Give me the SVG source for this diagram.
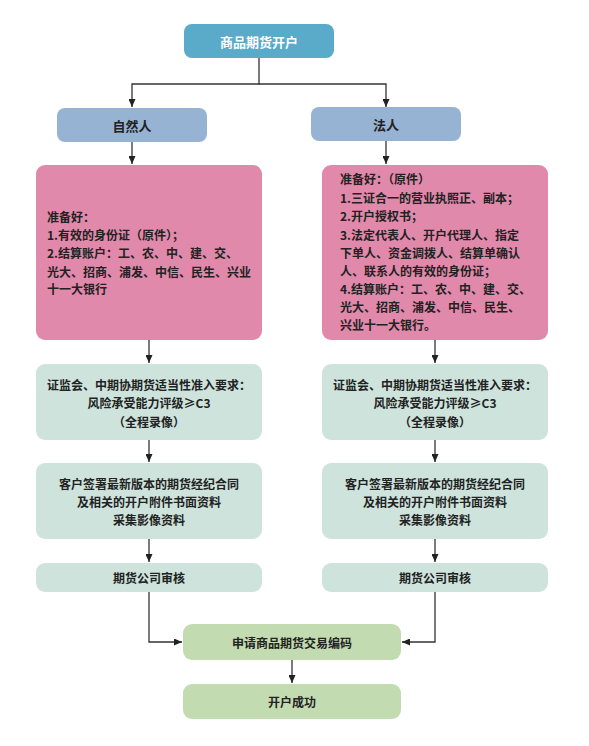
<svg xmlns="http://www.w3.org/2000/svg" width="589" height="746" viewBox="0 0 589 746">
<style>
text{font-family:"Noto Sans CJK SC","Noto Sans",sans-serif;font-weight:bold;font-size:12px;fill:#222;}
.c{text-anchor:middle;dominant-baseline:central;}
.l{dominant-baseline:central;}
.w{fill:#ffffff;font-size:13px;}
.top{fill:#5aabc9;}
.blue{fill:#97b3d3;}
.pink{fill:#e189aa;}
.teal{fill:#cde3dc;}
.green{fill:#c3dbb1;}
.conn{fill:none;stroke:#333;stroke-width:1.3;}
</style>
<defs>
<marker id="ah" markerUnits="userSpaceOnUse" markerWidth="8" markerHeight="7" refX="8" refY="3.5" orient="auto">
<path d="M0,0 L8,3.5 L0,7 z" fill="#222"/>
</marker>
</defs>
<rect width="589" height="746" fill="#ffffff"/>
<g id="connectors">
<path class="conn" d="M259,58 V84 H132 V107" marker-end="url(#ah)"/>
<path class="conn" d="M259,84 H386 V107" marker-end="url(#ah)"/>
<path class="conn" d="M132,142 V164" marker-end="url(#ah)"/>
<path class="conn" d="M386,141 V164" marker-end="url(#ah)"/>
<path class="conn" d="M149,340 V363" marker-end="url(#ah)"/>
<path class="conn" d="M435,340 V363" marker-end="url(#ah)"/>
<path class="conn" d="M149,440 V462" marker-end="url(#ah)"/>
<path class="conn" d="M435,440 V462" marker-end="url(#ah)"/>
<path class="conn" d="M149,539 V562" marker-end="url(#ah)"/>
<path class="conn" d="M435,539 V562" marker-end="url(#ah)"/>
<path class="conn" d="M149,592 V642 H182" marker-end="url(#ah)"/>
<path class="conn" d="M435,592 V642 H402" marker-end="url(#ah)"/>
<path class="conn" d="M292,660 V683" marker-end="url(#ah)"/>
</g>
<g id="n-top">
<rect class="top" x="184" y="24" width="150" height="34" rx="8"/>
<text class="c w" x="259" y="41">商品期货开户</text>
</g>
<g id="n-natural">
<rect class="blue" x="57" y="108" width="150" height="34" rx="8"/>
<text class="c" x="132" y="125" style="font-size:13px">自然人</text>
</g>
<g id="n-legal">
<rect class="blue" x="311" y="107" width="150" height="34" rx="8"/>
<text class="c" x="386" y="124" style="font-size:13px">法人</text>
</g>
<g id="n-prep-left">
<rect class="pink" x="36" y="165" width="226" height="175" rx="9"/>
<text class="l" x="47" y="216">准备好：</text>
<text class="l" x="47" y="234">1.有效的身份证（原件）；</text>
<text class="l" x="47" y="252">2.结算账户：工、农、中、建、交、</text>
<text class="l" x="47" y="271">光大、招商、浦发、中信、民生、兴业</text>
<text class="l" x="47" y="288">十一大银行</text>
</g>
<g id="n-prep-right">
<rect class="pink" x="322" y="165" width="226" height="175" rx="9"/>
<text class="l" x="340" y="178">准备好：（原件）</text>
<text class="l" x="340" y="197">1.三证合一的营业执照正、副本；</text>
<text class="l" x="340" y="215">2.开户授权书；</text>
<text class="l" x="340" y="234">3.法定代表人、开户代理人、指定</text>
<text class="l" x="340" y="252">下单人、资金调拨人、结算单确认</text>
<text class="l" x="340" y="270">人、联系人的有效的身份证；</text>
<text class="l" x="340" y="288">4.结算账户：工、农、中、建、交、</text>
<text class="l" x="340" y="306">光大、招商、浦发、中信、民生、</text>
<text class="l" x="340" y="324">兴业十一大银行。</text>
</g>
<g id="n-req-left">
<rect class="teal" x="36" y="364" width="226" height="76" rx="9"/>
<text class="c" x="149" y="384">证监会、中期协期货适当性准入要求：</text>
<text class="c" x="149" y="402">风险承受能力评级≥C3</text>
<text class="c" x="149" y="421">（全程录像）</text>
</g>
<g id="n-req-right">
<rect class="teal" x="322" y="364" width="226" height="76" rx="9"/>
<text class="c" x="435" y="384">证监会、中期协期货适当性准入要求：</text>
<text class="c" x="435" y="402">风险承受能力评级≥C3</text>
<text class="c" x="435" y="421">（全程录像）</text>
</g>
<g id="n-sign-left">
<rect class="teal" x="36" y="463" width="226" height="76" rx="9"/>
<text class="c" x="149" y="483">客户签署最新版本的期货经纪合同</text>
<text class="c" x="149" y="501">及相关的开户附件书面资料</text>
<text class="c" x="149" y="519">采集影像资料</text>
</g>
<g id="n-sign-right">
<rect class="teal" x="322" y="463" width="226" height="76" rx="9"/>
<text class="c" x="435" y="483">客户签署最新版本的期货经纪合同</text>
<text class="c" x="435" y="501">及相关的开户附件书面资料</text>
<text class="c" x="435" y="519">采集影像资料</text>
</g>
<g id="n-audit-left">
<rect class="teal" x="36" y="563" width="226" height="29" rx="9"/>
<text class="c" x="149" y="577">期货公司审核</text>
</g>
<g id="n-audit-right">
<rect class="teal" x="322" y="563" width="226" height="29" rx="9"/>
<text class="c" x="435" y="577">期货公司审核</text>
</g>
<g id="n-code">
<rect class="green" x="183" y="624" width="218" height="36" rx="9"/>
<text class="c" x="292" y="642">申请商品期货交易编码</text>
</g>
<g id="n-success">
<rect class="green" x="183" y="684" width="218" height="35" rx="9"/>
<text class="c" x="292" y="701">开户成功</text>
</g>
</svg>
